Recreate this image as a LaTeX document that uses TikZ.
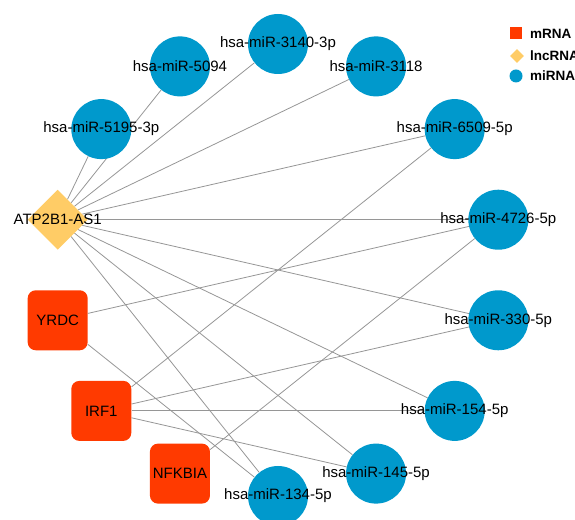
\documentclass[tikz,border=0pt]{standalone}
\usepackage{fontspec}
\setmainfont{Liberation Sans}
\usetikzlibrary{shapes.geometric,backgrounds}
\definecolor{mrna}{RGB}{255,58,0}
\definecolor{lnc}{RGB}{255,204,102}
\definecolor{mir}{RGB}{0,153,204}
\definecolor{edgec}{RGB}{150,150,150}
\begin{document}
\begin{tikzpicture}[x=1pt,y=1pt,
 mirnode/.style={circle,fill=mir,minimum size=60pt,inner sep=0pt},
 mrnanode/.style={rectangle,rounded corners=8pt,fill=mrna,minimum size=60pt,inner sep=0pt},
 lncnode/.style={diamond,fill=lnc,minimum width=60pt,minimum height=60pt,inner sep=0pt},
 lbl/.style={font=\fontsize{15}{18}\selectfont,text=black,inner sep=0pt},
 link/.style={draw=edgec,line width=0.8pt},
 legtext/.style={font=\fontsize{13.5}{16}\selectfont\bfseries,anchor=west,inner sep=0pt}]
\useasboundingbox (0,0) rectangle (575,519);
\begin{scope}[shift={(278,249)}]
\node[mirnode,label={[lbl]center:hsa-miR-3140-3p}] (m3140) at (90:226) {};
\node[mirnode,label={[lbl]center:hsa-miR-3118}] (m3118) at (64.286:226) {};
\node[mirnode,label={[lbl]center:hsa-miR-6509-5p}] (m6509) at (38.571:226) {};
\node[mirnode,label={[lbl]center:hsa-miR-4726-5p}] (m4726) at (12.857:226) {};
\node[mirnode,label={[lbl]center:hsa-miR-330-5p}] (m330) at (-12.857:226) {};
\node[mirnode,label={[lbl]center:hsa-miR-154-5p}] (m154) at (-38.571:226) {};
\node[mirnode,label={[lbl]center:hsa-miR-145-5p}] (m145) at (-64.286:226) {};
\node[mirnode,label={[lbl]center:hsa-miR-134-5p}] (m134) at (-90:226) {};
\node[mrnanode,label={[lbl]center:NFKBIA}] (nfkbia) at (-115.714:226) {};
\node[mrnanode,label={[lbl]center:IRF1}] (irf1) at (-141.429:226) {};
\node[mrnanode,label={[lbl]center:YRDC}] (yrdc) at (-167.143:226) {};
\node[lncnode,label={[lbl]center:ATP2B1-AS1}] (atp) at (167.143:226) {};
\node[mirnode,label={[lbl]center:hsa-miR-5195-3p}] (m5195) at (141.429:226) {};
\node[mirnode,label={[lbl]center:hsa-miR-5094}] (m5094) at (115.714:226) {};
\end{scope}
\begin{pgfonlayer}{background}
\draw[link] (atp) -- (m5195);
\draw[link] (atp) -- (m5094);
\draw[link] (atp) -- (m3140);
\draw[link] (atp) -- (m3118);
\draw[link] (atp) -- (m6509);
\draw[link] (atp) -- (m4726);
\draw[link] (atp) -- (m330);
\draw[link] (atp) -- (m154);
\draw[link] (atp) -- (m145);
\draw[link] (atp) -- (m134);
\draw[link] (yrdc) -- (m4726);
\draw[link] (yrdc) -- (m134);
\draw[link] (irf1) -- (m6509);
\draw[link] (irf1) -- (m330);
\draw[link] (irf1) -- (m154);
\draw[link] (irf1) -- (m145);
\draw[link] (nfkbia) -- (m4726);
\end{pgfonlayer}
\node[rectangle,fill=mrna,minimum size=12pt,inner sep=0pt] (legm) at (516,485.5) {};
\node[legtext] (legmt) at (530,485.5) {mRNA};
\node[diamond,fill=lnc,minimum width=14pt,minimum height=14pt,inner sep=0pt] (legl) at (517,463) {};
\node[legtext] (leglt) at (530,463) {lncRNA};
\node[circle,fill=mir,minimum size=13pt,inner sep=0pt] (legc) at (516,443) {};
\node[legtext] (legct) at (530,443) {miRNA};
\end{tikzpicture}
\end{document}
